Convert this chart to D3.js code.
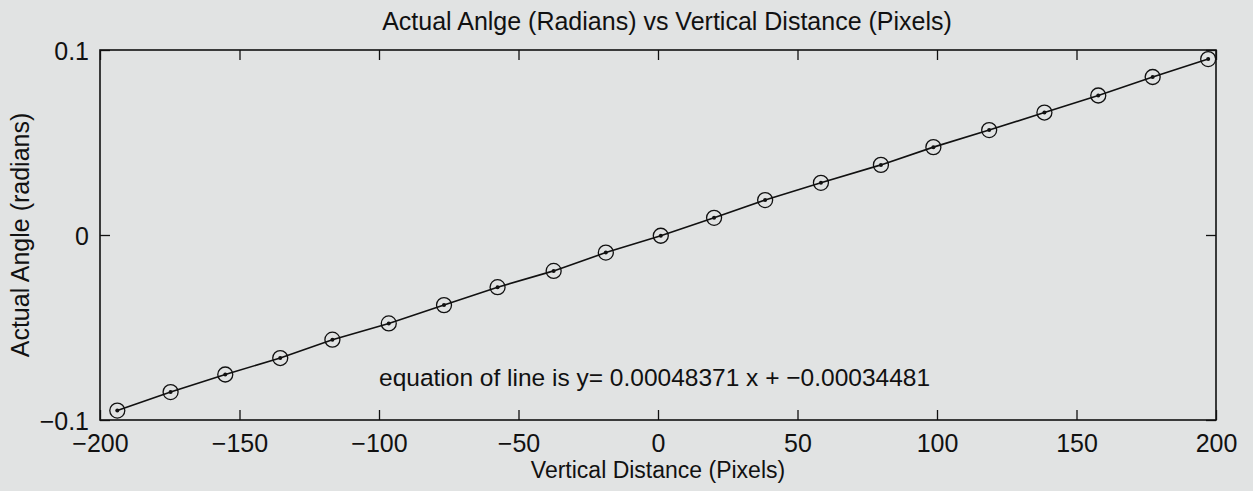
<!DOCTYPE html>
<html>
<head>
<meta charset="utf-8">
<script src="https://cdn.jsdelivr.net/npm/d3@7"></script>
<style>
  html, body { margin: 0; padding: 0; background: #e1e3e3; }
  svg { display: block; }
  text { font-family: "Liberation Sans", Arial, Helvetica, sans-serif; fill: #111; }
</style>
</head>
<body>
<svg id="chart" width="1253" height="491"></svg>
<script>
// Data
const pixels = [-193.8, -174.7, -155.1, -135.4, -116.7, -96.5, -76.7, -57.5, -37.4, -18.7,
                1.0, 20.1, 38.4, 58.4, 79.9, 98.7, 118.7, 138.5, 157.8, 177.3, 197.2];
const angles = [-0.0949, -0.0849, -0.0754, -0.0665, -0.0566, -0.0478, -0.0379, -0.0282, -0.0194, -0.0095,
                -0.0004, 0.0093, 0.0189, 0.0282, 0.0379, 0.0475, 0.0567, 0.0662, 0.0754, 0.0854, 0.0951];
const xTicks = [-200, -150, -100, -50, 0, 50, 100, 150, 200];
const yTicks = [-0.1, 0, 0.1];
const titleText = "Actual Anlge (Radians) vs Vertical Distance (Pixels)";
const xLabel = "Vertical Distance (Pixels)";
const yLabel = "Actual Angle (radians)";
const equationText = "equation of line is y= 0.00048371 x + \u22120.00034481";
const equationPos = [-100, -0.0766];

const svg = d3.select("#chart");
const mLeft = 100, mRight = 1216, mTop = 50, mBottom = 420;

const x = d3.scaleLinear().domain([-200, 200]).range([mLeft, mRight]);
const y = d3.scaleLinear().domain([-0.1, 0.1]).range([mBottom, mTop]);

const fmtX = d => d < 0 ? "\u2212" + Math.abs(d) : String(d);
const fmtY = d => d === 0 ? "0" : (d < 0 ? "\u2212" + Math.abs(d) : String(d));

const tickLen = 10;
const fs = 25;

const gB = svg.append("g").attr("transform", `translate(0,${mBottom})`)
  .call(d3.axisBottom(x).tickValues(xTicks).tickFormat(fmtX).tickSizeInner(-tickLen).tickSizeOuter(0).tickPadding(14));
const gT = svg.append("g").attr("transform", `translate(0,${mTop})`)
  .call(d3.axisTop(x).tickValues(xTicks).tickFormat("").tickSizeInner(-tickLen).tickSizeOuter(0));
const gL = svg.append("g").attr("transform", `translate(${mLeft},0)`)
  .call(d3.axisLeft(y).tickValues(yTicks).tickFormat(fmtY).tickSizeInner(-tickLen).tickSizeOuter(0).tickPadding(11));
const gR = svg.append("g").attr("transform", `translate(${mRight},0)`)
  .call(d3.axisRight(y).tickValues(yTicks).tickFormat("").tickSizeInner(-tickLen).tickSizeOuter(0));

[gB, gT, gL, gR].forEach(g => {
  g.selectAll(".domain").remove();
  g.selectAll("line").attr("stroke", "#111").attr("stroke-width", 1.3);
  g.selectAll("text").style("font-size", fs + "px").attr("fill", "#111");
});
gL.selectAll("text").attr("dy", "0.36em");
gB.selectAll("text").attr("dy", "0.71em");

svg.append("rect").attr("x", mLeft).attr("y", mTop)
  .attr("width", mRight - mLeft).attr("height", mBottom - mTop)
  .attr("fill", "none").attr("stroke", "#111").attr("stroke-width", 1.6);

const pts = pixels.map((p, i) => [p, angles[i]]);
svg.append("path").datum(pts)
  .attr("fill", "none").attr("stroke", "#111").attr("stroke-width", 1.6)
  .attr("d", d3.line().x(d => x(d[0])).y(d => y(d[1])));

svg.append("g").selectAll("circle").data(pts).join("circle")
  .attr("cx", d => x(d[0])).attr("cy", d => y(d[1])).attr("r", 7.5)
  .attr("fill", "none").attr("stroke", "#111").attr("stroke-width", 1.3);
svg.append("g").selectAll("circle").data(pts).join("circle")
  .attr("cx", d => x(d[0])).attr("cy", d => y(d[1])).attr("r", 2)
  .attr("fill", "#111");

svg.append("text").attr("x", x(equationPos[0])).attr("y", y(equationPos[1]))
  .attr("dy", "0.36em").style("font-size", "24.5px").text(equationText);

svg.append("text").attr("x", (mLeft + mRight) / 2 + 9).attr("y", 30)
  .attr("text-anchor", "middle").style("font-size", fs + "px").text(titleText);

svg.append("text").attr("x", (mLeft + mRight) / 2).attr("y", 478)
  .attr("text-anchor", "middle").style("font-size", "23px").text(xLabel);

svg.append("text").attr("transform", `translate(29,${(mTop + mBottom) / 2}) rotate(-90)`)
  .attr("text-anchor", "middle").style("font-size", fs + "px").text(yLabel);
</script>
</body>
</html>
